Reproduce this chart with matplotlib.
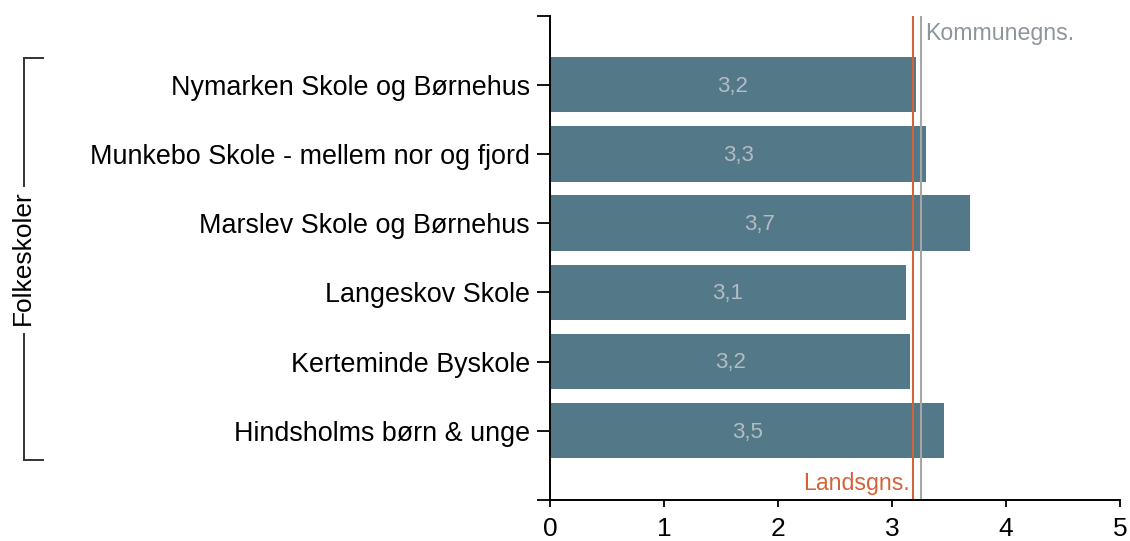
import matplotlib
matplotlib.use("Agg")
import matplotlib.pyplot as plt
from matplotlib.lines import Line2D

plt.rcParams['font.family'] = ['Liberation Sans', 'DejaVu Sans']

# data
schools = ['Nymarken Skole og Børnehus',
           'Munkebo Skole - mellem nor og fjord',
           'Marslev Skole og Børnehus',
           'Langeskov Skole',
           'Kerteminde Byskole',
           'Hindsholms børn & unge']
scores = [3.21, 3.30, 3.68, 3.12, 3.16, 3.46]
group_label = 'Folkeskoler'
lands_avg = 3.18
kommune_avg = 3.25
x_ticks = [0, 1, 2, 3, 4, 5]

bar_color = '#537888'
value_color = '#b3bcc4'
lands_color = '#d2643a'
kommune_color = '#a6a6a6'


def fmt(v):
    return f'{v:.1f}'.replace('.', ',')


fig = plt.figure(figsize=(11.3, 5.41), dpi=100)
ax = fig.add_axes([550 / 1130, 1 - 500 / 541, 570 / 1130, 484.5 / 541])

pos = list(range(len(schools)))
ax.barh(pos, scores, height=0.8, color=bar_color)
for p, v in zip(pos, scores):
    ax.text(v / 2, p + 0.02, fmt(v), ha='center', va='center', fontsize=16, color=value_color)

# reference lines
ax.axvline(lands_avg, color=lands_color, lw=1.5)
ax.axvline(kommune_avg, color=kommune_color, lw=1.5)
ax.text(kommune_avg + 0.04, -0.9, 'Kommunegns.', ha='left', va='top',
        fontsize=16.7, color='#8f959c')
ax.text(lands_avg - 0.02, 5.93, 'Landsgns.', ha='right', va='bottom',
        fontsize=16.7, color=lands_color)

ax.set_xlim(0, 5)
ax.set_ylim(6, -1)
ax.set_xticks(x_ticks)
ax.set_xticklabels([str(t) for t in x_ticks])
ax.set_yticks(pos)
ax.set_yticklabels(schools)
ax.set_yticks([-1, 6], minor=True)
ax.tick_params(axis='y', which='both', length=9.5, width=1.3, pad=5, labelsize=19.4)
ax.tick_params(axis='x', length=5, width=1.3, pad=7, labelsize=19)

for s in ['top', 'right']:
    ax.spines[s].set_visible(False)
for s in ['left', 'bottom']:
    ax.spines[s].set_linewidth(1.4)

# group bracket on the left
W, H = 1130, 541
def fx(px):
    return px / W
def fy(py):
    return 1 - py / H

bk = dict(color='#333333', lw=1.4, transform=fig.transFigure)
fig.add_artist(Line2D([fx(24), fx(24)], [fy(58), fy(186)], **bk))
fig.add_artist(Line2D([fx(24), fx(24)], [fy(334), fy(460)], **bk))
fig.add_artist(Line2D([fx(24), fx(43)], [fy(58), fy(58)], **bk))
fig.add_artist(Line2D([fx(24), fx(43)], [fy(460), fy(460)], **bk))
fig.text(fx(23), fy(258), group_label, rotation=90, ha='center', va='center', fontsize=19)

fig.savefig('out.png', dpi=100)
